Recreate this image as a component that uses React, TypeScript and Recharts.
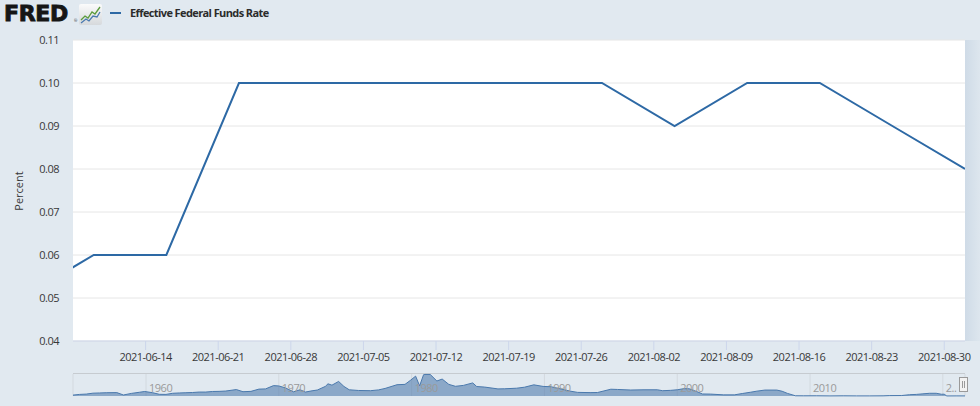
import React from 'react';
import { LineChart, Line, XAxis, YAxis, CartesianGrid, AreaChart, Area } from 'recharts';

// weekly series (week ending Wednesday)
const weekEnding = [
  '2021-06-02', '2021-06-09', '2021-06-16', '2021-06-23', '2021-06-30', '2021-07-07', '2021-07-14',
  '2021-07-21', '2021-07-28', '2021-08-04', '2021-08-11', '2021-08-18', '2021-08-25', '2021-09-01',
];
const effrPercent = [0.05, 0.06, 0.06, 0.1, 0.1, 0.1, 0.1, 0.1, 0.1, 0.09, 0.1, 0.1, 0.09, 0.08];

const dateTicks = [
  '2021-06-14', '2021-06-21', '2021-06-28', '2021-07-05', '2021-07-12', '2021-07-19',
  '2021-07-26', '2021-08-02', '2021-08-09', '2021-08-16', '2021-08-23', '2021-08-30',
];
const percentTicks = [0.04, 0.05, 0.06, 0.07, 0.08, 0.09, 0.1, 0.11];
const rangeStart = '2021-06-07';
const rangeEnd = '2021-09-01';

// navigator: full history, rough reading of the mini chart
const navYears = [
  1954.5, 1955.0, 1955.5, 1956.0, 1956.5, 1957.0, 1957.8, 1958.3, 1958.9, 1959.5, 1959.9, 1960.5,
  1961.0, 1961.5, 1962.0, 1962.5, 1963.0, 1963.5, 1964.0, 1964.5, 1965.0, 1965.5, 1966.0, 1966.8,
  1967.3, 1967.9, 1968.5, 1969.0, 1969.6, 1970.0, 1970.5, 1971.1, 1971.6, 1972.0, 1972.5, 1972.9,
  1973.5, 1973.7, 1974.0, 1974.5, 1974.9, 1975.3, 1976.0, 1976.9, 1977.5, 1978.0, 1978.9, 1979.5,
  1979.9, 1980.3, 1980.6, 1980.9, 1981.0, 1981.4, 1981.9, 1982.3, 1982.8, 1983.3, 1983.9, 1984.6,
  1984.9, 1985.5, 1986.5, 1987.0, 1987.9, 1988.5, 1989.2, 1989.9, 1990.5, 1991.0, 1991.9, 1992.5,
  1993.5, 1994.0, 1995.0, 1995.5, 1996.5, 1997.5, 1998.5, 1998.9, 1999.5, 2000.0, 2000.5, 2000.9,
  2001.5, 2001.9, 2002.5, 2003.5, 2004.3, 2004.9, 2005.5, 2006.0, 2006.6, 2007.5, 2007.9, 2008.3,
  2008.9, 2009.5, 2010.5, 2011.5, 2012.5, 2013.5, 2014.5, 2015.5, 2016.0, 2016.9, 2017.5, 2018.0,
  2018.5, 2019.0, 2019.5, 2019.9, 2020.1, 2020.3, 2021.0, 2021.67,
];
const navRates = [
  0.8, 1.4, 1.7, 2.5, 2.7, 2.9, 3.0, 0.9, 2.3, 3.3, 4.0, 2.9,
  1.5, 1.4, 2.4, 2.7, 2.9, 3.1, 3.5, 3.5, 4.0, 4.1, 4.4, 5.7,
  3.8, 4.1, 6.1, 6.3, 9.2, 8.9, 7.2, 3.7, 5.5, 3.5, 4.6, 5.3,
  8.5, 10.8, 9.6, 12.9, 8.5, 5.5, 4.9, 4.7, 5.4, 6.7, 10.0, 10.3,
  13.8, 17.6, 9.0, 18.9, 19.1, 19.1, 13.3, 15.0, 10.3, 8.6, 9.4, 11.6,
  8.4, 7.9, 6.3, 6.4, 6.9, 7.8, 9.9, 8.5, 8.2, 6.9, 4.4, 3.2,
  3.0, 3.1, 6.0, 5.8, 5.3, 5.5, 5.5, 4.7, 5.0, 5.5, 6.5, 6.4,
  3.8, 1.8, 1.7, 1.0, 1.0, 2.2, 3.3, 4.3, 5.25, 5.25, 4.2, 2.3,
  0.2, 0.15, 0.18, 0.08, 0.15, 0.09, 0.09, 0.13, 0.36, 0.41, 1.15, 1.4,
  1.9, 2.4, 2.4, 1.55, 1.6, 0.05, 0.09, 0.08,
];
const navYearTicks = [1960, 1970, 1980, 1990, 2000, 2010, 2020];

const font = '"Open Sans", "DejaVu Sans", sans-serif';
const lineColor = '#2d69a5';

const toTime = (d: string) => Date.parse(d + 'T00:00:00Z');
const fmtDate = (v: number) => new Date(v).toISOString().slice(0, 10);

const rateData = weekEnding.map((d, i) => ({ t: toTime(d), value: effrPercent[i] }));
const navData = navYears.map((y, i) => ({ year: y, rate: navRates[i] }));

function DateTick({ x, y, payload }: any) {
  return (
    <text x={x} y={y} dy="0.71em" textAnchor="middle" fill="#383838" fontSize={11} fontFamily={font} letterSpacing={-0.5}>
      {fmtDate(payload.value)}
    </text>
  );
}

function PercentTick({ x, y, payload }: any) {
  return (
    <text x={x} y={y} dy="0.355em" textAnchor="end" fill="#383838" fontSize={11} fontFamily={font} letterSpacing={-0.5}>
      {payload.value.toFixed(2)}
    </text>
  );
}

function YearTick({ x, y, payload, index }: any) {
  const label = index === navYearTicks.length - 1 ? '2..' : String(payload.value);
  return (
    <text x={x + 3} y={y - 4} textAnchor="start" fill="#9a9a9a" fontSize={11} fontFamily={font} letterSpacing={-0.5}>
      {label}
    </text>
  );
}

export default function App() {
  return (
    <div style={{ position: 'absolute', left: 0, top: 0, width: 980, height: 406, background: '#e1e9f0', overflow: 'hidden' }}>
      <div style={{ position: 'absolute', left: 0, top: 0 }}>
        <LineChart width={980} height={365} data={rateData} margin={{ top: 40, right: 15, bottom: 0, left: 0 }}>
          <CartesianGrid vertical={false} stroke="#e6e6e6" fill="#ffffff" />
          <XAxis
            dataKey="t"
            type="number"
            domain={[toTime(rangeStart), toTime(rangeEnd)]}
            allowDataOverflow
            ticks={dateTicks.map(toTime)}
            interval={0}
            height={24}
            stroke="#ccd6eb"
            tickSize={9}
            tickMargin={3}
            tick={<DateTick />}
          />
          <YAxis
            type="number"
            domain={[0.04, 0.11]}
            ticks={percentTicks}
            interval={0}
            width={73}
            axisLine={false}
            tickLine={false}
            tickSize={0}
            tickMargin={14}
            tick={<PercentTick />}
          />
          <Line
            type="linear"
            dataKey="value"
            stroke={lineColor}
            strokeWidth={2}
            dot={false}
            activeDot={false}
            isAnimationActive={false}
          />
        </LineChart>
      </div>

      <div style={{ position: 'absolute', left: 73, top: 373, width: 892, height: 0, borderTop: '1px solid #c6cbd0' }} />

      <div style={{ position: 'absolute', left: 0, top: 370 }}>
        <AreaChart width={980} height={36} data={navData} margin={{ top: 4, right: 15, bottom: 0, left: 73 }}>
          <CartesianGrid horizontal={false} stroke="#d3d9df" />
          <XAxis
            dataKey="year"
            type="number"
            domain={[1954.5, 2021.67]}
            ticks={navYearTicks}
            interval={0}
            height={10}
            axisLine={false}
            tickLine={false}
            tickSize={0}
            tickMargin={0}
            tick={<YearTick />}
          />
          <YAxis hide type="number" domain={[0, 19.5]} />
          <Area
            type="linear"
            dataKey="rate"
            stroke="#4a79ad"
            strokeWidth={1}
            fill="#4572a7"
            fillOpacity={0.55}
            dot={false}
            activeDot={false}
            isAnimationActive={false}
          />
        </AreaChart>
      </div>

      <svg width={980} height={406} style={{ position: 'absolute', left: 0, top: 0, pointerEvents: 'none' }}>
        <defs>
          <linearGradient id="logoBg" x1="0" y1="0" x2="0" y2="1">
            <stop offset="0" stopColor="#fbfbfb" />
            <stop offset="1" stopColor="#d6d9dc" />
          </linearGradient>
          <linearGradient id="edge" x1="0" y1="0" x2="1" y2="0">
            <stop offset="0" stopColor="#cfdbe7" />
            <stop offset="1" stopColor="#dde6ee" />
          </linearGradient>
        </defs>
        <rect x={965} y={40} width={15} height={301} fill="url(#edge)" />

        {/* FRED logo */}
        <text x={4} y={21} fontSize={22} fontWeight={700} fontFamily='"DejaVu Sans", sans-serif' fill="#161616" stroke="#161616" strokeWidth={0.9} letterSpacing={-0.3}>
          FRED
        </text>
        <text x={74} y={22} fontSize={4} fontFamily={font} fill="#333">®</text>
        <rect x={79} y={4} width={23} height={21} rx={2} fill="url(#logoBg)" />
        <polyline points="81,20 85,16 88,18 92,12 95,14 100,7" fill="none" stroke="#5b9b3c" strokeWidth={1.3} />
        <polyline points="81,23 86,19 89,21 93,16 97,17 100,12" fill="none" stroke="#4a7ab0" strokeWidth={1.3} />

        {/* legend */}
        <line x1={110} x2={121} y1={13} y2={13} stroke={lineColor} strokeWidth={2} />
        <text x={130} y={17} fontSize={11} fontWeight={700} fontFamily={font} fill="#2b2b2b" letterSpacing={-0.6}>
          Effective Federal Funds Rate
        </text>

        {/* axis title */}
        <text transform="translate(23,191) rotate(-90)" textAnchor="middle" fontSize={11} fontFamily={font} fill="#383838">
          Percent
        </text>

        {/* navigator handle */}
        <rect x={959.5} y={377.5} width={8} height={14} fill="#f2f2f2" stroke="#9a9a9a" />
        <line x1={962.5} x2={962.5} y1={381} y2={388} stroke="#9a9a9a" />
        <line x1={964.5} x2={964.5} y1={381} y2={388} stroke="#9a9a9a" />
      </svg>
    </div>
  );
}
